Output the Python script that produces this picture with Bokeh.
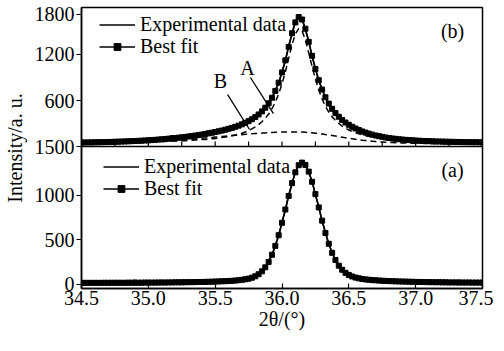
import numpy as np
from bokeh.plotting import figure
from bokeh.models import (Range1d, FixedTicker, Span, Label, Legend, LegendItem,
                          Arrow, NumeralTickFormatter, ColumnDataSource)
from bokeh.embed import file_html
from bokeh.resources import INLINE

# ---------------- data ----------------
TWO_THETA = [round(34.5 + 0.025 * i, 3) for i in range(121)]

TOP_EXP = [60, 41, 69, 49, 77, 46, 60, 40, 71, 90, 54, 68, 50, 86, 62, 80, 52, 88, 78, 70, 106,
           72, 93, 87, 112, 84, 111, 141, 100, 119, 104,
           137, 124, 157, 140, 164, 145, 172, 200, 167, 194,
           192, 224, 210, 253, 228, 267, 267, 303, 301, 345,
           348, 402, 410, 470, 495, 580, 625, 742, 820, 985,
           1110, 1318, 1465, 1640, 1700, 1672, 1520, 1380, 1170, 1025,
           852, 758, 630, 572, 482, 448, 378, 358, 302, 294,
           247, 246, 205, 210, 170, 180, 144, 158, 124, 138,
           105, 124, 94, 112, 82, 104, 76, 99, 68, 92,
           62, 86, 58, 83, 55, 80, 52, 77, 49, 75,
           48, 72, 45, 90, 44, 68, 42, 70, 44, 66]

TOP_FIT = [52, 53, 54, 54, 55, 56, 57, 58, 59, 60, 62, 63, 65, 66, 68, 70, 72, 74, 76, 79, 81,
           84, 87, 91, 94, 98, 102, 106, 110, 115, 120,
           125, 131, 137, 143, 149, 156, 164, 172, 180, 189,
           198, 208, 219, 231, 243, 257, 272, 289, 309, 331,
           356, 384, 418, 458, 506, 564, 636, 725, 833, 966,
           1124, 1299, 1478, 1619, 1688, 1656, 1537, 1365, 1183, 1011,
           865, 743, 642, 560, 492, 436, 388, 347, 313, 283,
           258, 235, 215, 197, 182, 168, 155, 144, 135, 126,
           118, 111, 105, 100, 95, 91, 87, 84, 81, 78,
           75, 73, 71, 70, 68, 66, 65, 64, 63, 62,
           61, 60, 59, 58, 57, 57, 56, 56, 55, 54]

TOP_PEAK_A = [50, 51, 51, 51, 52, 52, 52, 53, 53, 54, 54, 55, 55, 56, 57, 57, 58, 59, 59, 60, 61,
              62, 63, 64, 65, 67, 68, 69, 71, 73, 75,
              76, 79, 81, 84, 86, 90, 93, 97, 101, 106,
              111, 117, 124, 131, 140, 150, 161, 174, 190, 208,
              230, 255, 286, 323, 368, 424, 493, 580, 687, 818,
              975, 1150, 1328, 1469, 1538, 1508, 1391, 1222, 1044, 877,
              736, 620, 526, 450, 389, 340, 300, 266, 239, 216,
              197, 180, 166, 154, 144, 135, 127, 120, 113, 108,
              103, 98, 95, 91, 88, 85, 82, 80, 77, 75,
              73, 72, 70, 69, 67, 66, 65, 64, 62, 62,
              61, 60, 59, 58, 57, 57, 56, 56, 55, 54]

TOP_PEAK_B = [42, 43, 43, 43, 44, 44, 45, 45, 46, 47, 47, 48, 49, 50, 51, 53, 54, 55, 57, 59, 60,
              62, 64, 66, 69, 71, 74, 77, 79, 82, 86,
              89, 92, 96, 99, 103, 107, 111, 115, 119, 123,
              127, 131, 135, 139, 143, 147, 151, 155, 159, 163,
              166, 169, 172, 175, 178, 180, 183, 185, 186, 188,
              189, 189, 190, 190, 190, 188, 186, 183, 179, 174,
              169, 163, 156, 150, 143, 136, 128, 121, 114, 107,
              101, 95, 89, 83, 78, 73, 69, 65, 61, 58,
              55, 53, 51, 49, 47, 46, 45, 44, 43, 43,
              42, 42, 41, 41, 41, 41, 40, 40, 40, 40,
              40, 40, 40, 40, 40, 40, 40, 40, 40, 40]

BOT_EXP = [25, 8, 30, 12, 22, 5, 35, 14, 28, 10, 45, 15, 26, 8, 32, 12, 50, 18, 28, 10, 38,
           14, 30, 9, 46, 16, 34, 12, 40, 20, 48,
           15, 36, 14, 32, 18, 40, 20, 36, 18, 30,
           22, 44, 26, 48, 32, 55, 38, 64, 50, 78,
           68, 105, 104, 160, 180, 268, 320, 448, 540, 705,
           828, 1005, 1122, 1270, 1328, 1358, 1350, 1250, 1162, 1000,
           875, 704, 590, 445, 366, 262, 222, 154, 142, 96,
           102, 66, 80, 52, 68, 42, 60, 36, 56, 32,
           52, 28, 48, 26, 44, 22, 45, 20, 40, 18,
           38, 16, 40, 15, 35, 14, 38, 12, 32, 10,
           34, 12, 50, 14, 30, 10, 36, 12, 28, 40]

BOT_FIT = [18, 18, 18, 18, 18, 18, 18, 19, 19, 19, 19, 19, 19, 19, 20, 20, 20, 20, 20, 21, 21,
           21, 21, 22, 22, 22, 23, 23, 24, 24, 24,
           25, 26, 26, 27, 28, 28, 29, 30, 31, 33,
           34, 36, 37, 39, 41, 44, 48, 52, 58, 65,
           76, 92, 115, 147, 192, 253, 333, 432, 552, 690,
           840, 991, 1135, 1256, 1336, 1365, 1339, 1264, 1150, 1012,
           863, 715, 577, 456, 355, 274, 211, 165, 130, 107,
           90, 77, 69, 62, 57, 53, 49, 47, 44, 42,
           40, 38, 37, 35, 34, 33, 32, 31, 30, 29,
           28, 28, 27, 26, 26, 25, 25, 24, 24, 23,
           23, 23, 22, 22, 22, 22, 21, 21, 21, 21]

X_TICKS = [34.5, 35.0, 35.5, 36.0, 36.5, 37.0, 37.5]
JUNCTION_TICKS = [34.75, 35.0, 35.25, 35.5, 35.75, 36.0, 36.25, 36.5, 36.75, 37.0, 37.25]
BOT_Y_TICKS = [0, 500, 1000]
TOP_Y_TICKS = [0, 600, 1200, 1800]
TOP_Y_LABELS = ["1500", "600", "1200", "1800"]

# ---------------- layout of the two stacked panels ----------------
SERIF = "Liberation Serif"
FS = "20px"
Y0, J, Y1 = -45.0, 1545.0, 3102.0      # main (bottom panel) range and junction value
T1 = 1813.0                            # top panel range end
T0 = -(J - Y0) * T1 / (Y1 - J)         # top panel value 0 sits at the junction
FRAME_W, FRAME_H = 401, 281
TOP_LABEL_NUDGE = {1800: 1725}         # top-most label sits a little lower, as in the original


def top_to_main(v):
    return J + v * (Y1 - J) / T1


p = figure(frame_width=FRAME_W, frame_height=FRAME_H,
           x_range=Range1d(34.5, 37.5), y_range=Range1d(Y0, Y1),
           output_backend="svg", toolbar_location=None,
           min_border_left=76, min_border_right=11, min_border_top=7, min_border_bottom=47)
p.extra_y_ranges = {"top": Range1d(T0, T1)}
p.xgrid.visible = False
p.ygrid.visible = False
p.outline_line_color = "black"
p.outline_line_width = 1.5
p.background_fill_color = "white"

# axes
p.xaxis.ticker = FixedTicker(ticks=X_TICKS)
p.xaxis.formatter = NumeralTickFormatter(format="0.0")
p.xaxis.major_tick_in = 5
p.xaxis.major_tick_out = 0
p.xaxis.minor_tick_line_color = None
p.xaxis.major_label_standoff = 2
p.xaxis.axis_line_width = 1.5
p.xaxis.axis_label = "2θ/(°)"
p.xaxis.axis_label_standoff = 0

top_pos = [int(round(top_to_main(TOP_LABEL_NUDGE.get(v, v)))) for v in TOP_Y_TICKS]
p.yaxis.ticker = FixedTicker(ticks=BOT_Y_TICKS + top_pos)
p.yaxis.major_label_overrides = {tp: lab for tp, lab in zip(top_pos, TOP_Y_LABELS)}
p.yaxis.major_tick_in = 0
p.yaxis.major_tick_out = 5
p.yaxis.minor_tick_line_color = None
p.yaxis.major_label_standoff = 2
p.yaxis.axis_line_width = 1.5
p.yaxis.axis_label = "Intensity/a. u."
p.yaxis.axis_label_standoff = 6

for ax in (p.xaxis[0], p.yaxis[0]):
    ax.major_label_text_font = SERIF
    ax.major_label_text_font_size = FS
    ax.major_label_text_color = "black"
    ax.axis_label_text_font = SERIF
    ax.axis_label_text_font_size = FS
    ax.axis_label_text_font_style = "normal"
    ax.axis_label_text_color = "black"
    ax.major_tick_line_width = 1.2

# junction line between panels and its upward ticks
p.add_layout(Span(location=J, dimension="width", line_color="black", line_width=1.5))
tick_len = 5 * (Y1 - Y0) / FRAME_H
p.segment(x0=JUNCTION_TICKS, y0=[J] * len(JUNCTION_TICKS), x1=JUNCTION_TICKS,
          y1=[J + tick_len] * len(JUNCTION_TICKS), line_color="black", line_width=1.2)

src = ColumnDataSource(dict(x=TWO_THETA, top_exp=TOP_EXP, top_fit=TOP_FIT, a=TOP_PEAK_A,
                            b=TOP_PEAK_B, bot_exp=BOT_EXP, bot_fit=BOT_FIT))

# ---- top panel (b)
p.line("x", "a", source=src, y_range_name="top", line_color="black", line_width=1.5,
       line_dash="6 4")
p.line("x", "b", source=src, y_range_name="top", line_color="black", line_width=1.5,
       line_dash="6 4")
t_exp = p.line("x", "top_exp", source=src, y_range_name="top", line_color="black", line_width=1.6)
t_fit_l = p.line("x", "top_fit", source=src, y_range_name="top", line_color="black", line_width=1.5)
t_fit_m = p.scatter("x", "top_fit", source=src, y_range_name="top", marker="square", size=5,
                    fill_color="black", line_color="black")

# ---- bottom panel (a)
b_exp = p.line("x", "bot_exp", source=src, line_color="black", line_width=1.6)
b_fit_l = p.line("x", "bot_fit", source=src, line_color="black", line_width=1.5)
b_fit_m = p.scatter("x", "bot_fit", source=src, marker="square", size=5,
                    fill_color="black", line_color="black")


def one_item_legend(label, renderers, x, y):
    lg = Legend(items=[LegendItem(label=label, renderers=renderers)], location=(x, y),
                background_fill_alpha=0, border_line_color=None, padding=0, margin=0,
                spacing=0, label_height=17, glyph_height=17, glyph_width=36,
                label_standoff=5, label_text_font=SERIF, label_text_font_size=FS,
                label_text_color="black")
    p.add_layout(lg, "center")


one_item_legend("Experimental data", [t_exp], 18, 252)
one_item_legend("Best fit", [t_fit_l, t_fit_m], 18, 230)
one_item_legend("Experimental data", [b_exp], 22, 110)
one_item_legend("Best fit", [b_fit_l, b_fit_m], 22, 88)

# panel tags and peak annotations
lab_kw = dict(text_font=SERIF, text_font_size=FS, text_color="black",
              text_align="center", text_baseline="middle")
p.add_layout(Label(x=37.276, y=1513, y_range_name="top", text="(b)", **lab_kw))
p.add_layout(Label(x=37.276, y=1287, text="(a)", **lab_kw))
p.add_layout(Label(x=35.742, y=1030, y_range_name="top", text="A", **lab_kw))
p.add_layout(Label(x=35.54, y=861, y_range_name="top", text="B", **lab_kw))
p.add_layout(Arrow(end=None, x_start=35.764, y_start=900, x_end=35.936, y_end=430,
                   y_range_name="top", line_color="black", line_width=1.3))
p.add_layout(Arrow(end=None, x_start=35.593, y_start=678, x_end=35.757, y_end=222,
                   y_range_name="top", line_color="black", line_width=1.3))

open("out.html", "w").write(file_html(p, INLINE))
